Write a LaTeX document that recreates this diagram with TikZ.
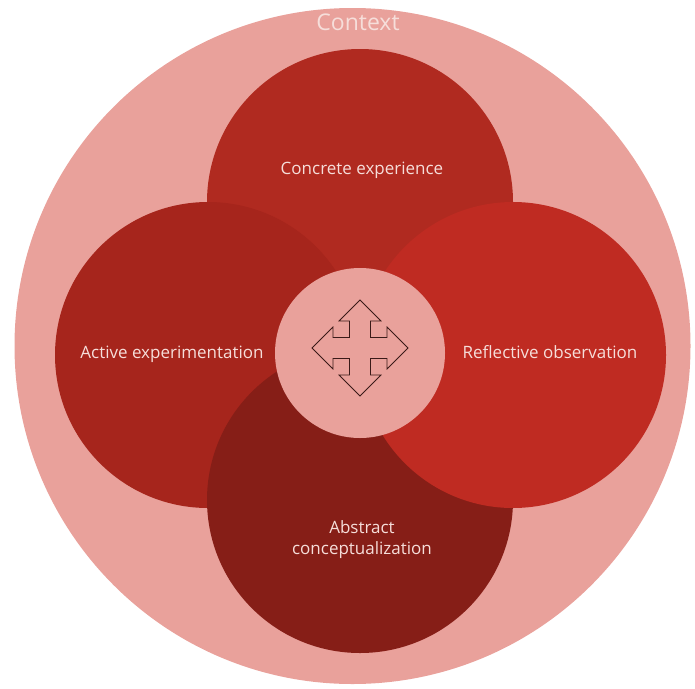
\documentclass[tikz,border=0pt]{standalone}
\usepackage{fontspec}
\setmainfont{Open Sans}
\usepackage{tikz}
\definecolor{ctxpink}{HTML}{E9A19B}
\definecolor{concred}{HTML}{B02A20}
\definecolor{actred}{HTML}{A6251C}
\definecolor{refred}{HTML}{BF2B22}
\definecolor{absred}{HTML}{861E17}
\definecolor{labelwhite}{HTML}{F6DEDA}
\definecolor{iconline}{HTML}{3A1A18}
\tikzset{
  phase/.style={text=labelwhite, font=\fontsize{17}{21}\selectfont, align=center, inner sep=0pt},
}

\begin{document}
\begin{tikzpicture}[x=1pt, y=-1pt]
			%%%%% START %%%%%
			\useasboundingbox (0, 0) rectangle (695, 688);
			
			\fill[ctxpink] (352.5, 346) circle (338);
			\node[text=labelwhite, font=\fontsize{23}{27}\selectfont, inner sep=0pt] (context) at (358, 22) {Context};
			
			\fill[concred] (360, 202) circle (153);
			\fill[actred] (208, 355) circle (153);
			\fill[absred] (360, 500) circle (153);
			\fill[refred] (513, 355) circle (153);
			
			\fill[ctxpink] (360, 353) circle (85);
			
			\node[phase] (concrete) at (362, 170) {Concrete experience};
			\node[phase] (active) at (172, 354) {Active experimentation};
			\node[phase] (reflective) at (550, 352) {Reflective observation};
			\node[phase] (abstract) at (362, 540) {Abstract\\conceptualization};
			
			\draw[iconline, line width=0.8pt, line join=miter, shift={(360, 348)}]
			  (0, -48) -- (21, -27) -- (10.5, -27) -- (10.5, -10.5) -- (27, -10.5) -- (27, -21)
			  -- (48, 0) -- (27, 21) -- (27, 10.5) -- (10.5, 10.5) -- (10.5, 27) -- (21, 27)
			  -- (0, 48) -- (-21, 27) -- (-10.5, 27) -- (-10.5, 10.5) -- (-27, 10.5) -- (-27, 21)
			  -- (-48, 0) -- (-27, -21) -- (-27, -10.5) -- (-10.5, -10.5) -- (-10.5, -27) -- (-21, -27)
			  -- cycle;
			%%%%% END %%%%%
\end{tikzpicture}
\end{document}
